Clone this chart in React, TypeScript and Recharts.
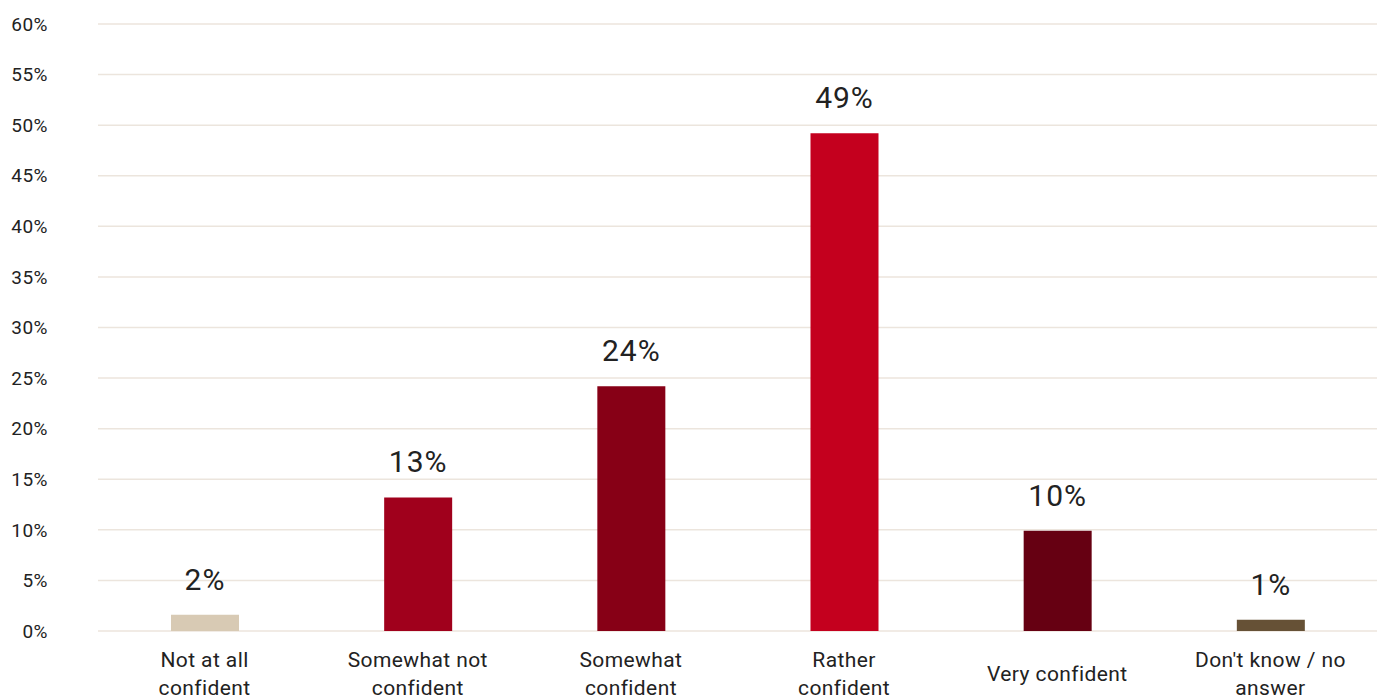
import { Bar, BarChart, CartesianGrid, Cell, LabelList, XAxis, YAxis } from "recharts"

const CATEGORIES = [
  "Not at all confident",
  "Somewhat not confident",
  "Somewhat confident",
  "Rather confident",
  "Very confident",
  "Don't know / no answer",
]
const VALUES = [1.6, 13.2, 24.2, 49.2, 9.9, 1.1]
const VALUE_LABELS = ["2%", "13%", "24%", "49%", "10%", "1%"]
const Y_TICKS = [0, 5, 10, 15, 20, 25, 30, 35, 40, 45, 50, 55, 60]
const COLORS = ["#d8cab4", "#a0001c", "#870016", "#c4001e", "#660012", "#665136"]

const data = CATEGORIES.map((name, i) => ({ name, value: VALUES[i], label: VALUE_LABELS[i] }))

const FONT = "Roboto, sans-serif"

// greedy word wrap, max chars per line
function wrap(text: string, max = 15) {
  const lines: string[] = []
  let cur = ""
  for (const w of text.split(" ")) {
    const next = cur ? cur + " " + w : w
    if (next.length > max && cur) {
      lines.push(cur)
      cur = w
    } else {
      cur = next
    }
  }
  if (cur) lines.push(cur)
  return lines
}

function CategoryTick({ x, y, payload }: any) {
  const lines = wrap(String(payload.value))
  const lh = 28
  const startY = y + 43 - ((lines.length - 1) * lh) / 2
  return (
    <text
      textAnchor="middle"
      fontSize={21}
      fontFamily={FONT}
      fill="#222"
      dominantBaseline="central"
      letterSpacing={0.4}
    >
      {lines.map((l, i) => (
        <tspan key={i} x={x} y={startY + i * lh}>
          {l}
        </tspan>
      ))}
    </text>
  )
}

export default function App() {
  return (
    <div style={{ position: "fixed", left: 0, top: 0, background: "#fff" }}>
      <BarChart
        width={1385}
        height={700}
        data={data}
        margin={{ top: 24, right: 8, bottom: 0, left: 0 }}
      >
        <CartesianGrid vertical={false} stroke="#ece5dd" strokeWidth={1.5} />
        <XAxis
          dataKey="name"
          axisLine={false}
          tickLine={false}
          tickSize={0}
          tickMargin={0}
          height={69}
          interval={0}
          tick={<CategoryTick />}
        />
        <YAxis
          domain={[0, 60]}
          ticks={Y_TICKS}
          width={98}
          axisLine={false}
          tickLine={false}
          tickSize={0}
          tickMargin={50}
          tickFormatter={(v: number) => `${v}%`}
          tick={{ fontSize: 19, fontFamily: FONT, fill: "#222", letterSpacing: 0.5 }}
        />
        <Bar dataKey="value" barSize={68} isAnimationActive={false}>
          {data.map((_, i) => (
            <Cell key={`cell-${i}`} fill={COLORS[i]} />
          ))}
          <LabelList
            dataKey="label"
            position="top"
            offset={25}
            style={{ fontSize: 30, fontFamily: FONT, fill: "#222", letterSpacing: 1 }}
          />
        </Bar>
      </BarChart>
    </div>
  )
}
